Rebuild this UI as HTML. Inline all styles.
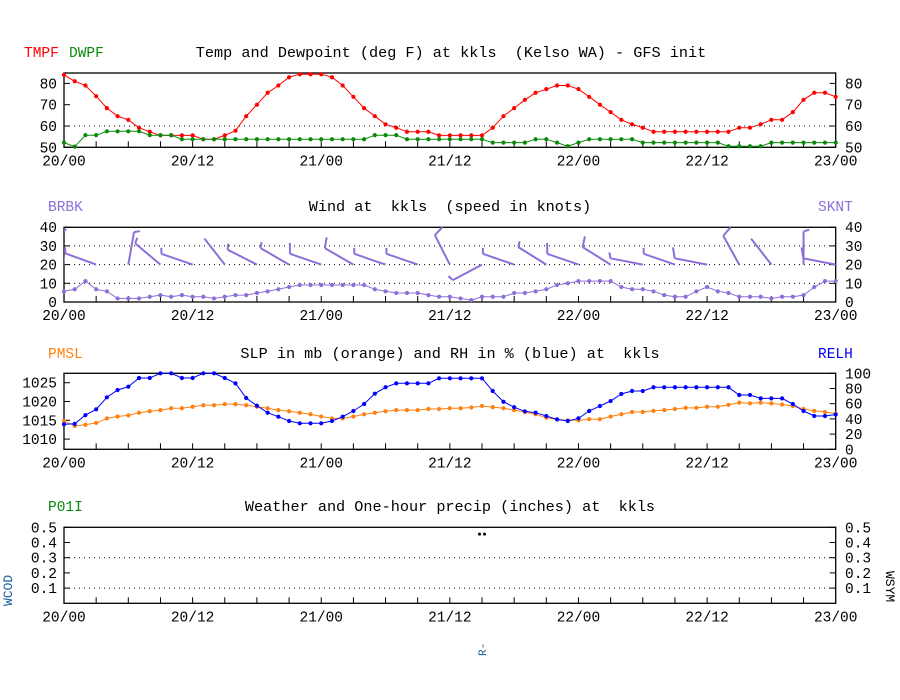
<!DOCTYPE html>
<html><head><meta charset="utf-8"><title>kkls meteogram</title>
<style>
html,body{margin:0;padding:0;background:#fff;width:900px;height:700px;overflow:hidden}
svg{display:block}
text{font-family:"Liberation Mono",monospace;white-space:pre}
</style></head>
<body>
<svg id="chart" width="900" height="700" viewBox="0 0 900 700" xmlns="http://www.w3.org/2000/svg" xml:space="preserve">
<defs>
<clipPath id="clipWind"><rect x="64" y="227" width="772" height="75"/></clipPath>
</defs>
<rect x="0" y="0" width="900" height="700" fill="#fff"/>
<g id="g1"></g>
<g id="g2"></g>
<g id="g3"></g>
<g id="g4"></g>
</svg>
<script>
// ---- data ----
const xTickLabels = ["20/00","20/12","21/00","21/12","22/00","22/12","23/00"];
const tmpf = [84,81,79,74,68.4,64.6,62.9,59.2,57.3,55.6,55.6,55.6,55.6,53.8,53.8,55.6,57.8,64.6,70,75.6,79,82.9,84.3,84.3,84.3,82.9,79,73.7,68.4,64.6,60.8,59.2,57.3,57.3,57.3,55.6,55.6,55.6,55.6,55.6,59.2,64.6,68.4,72.3,75.6,77.3,79,79,77.3,73.7,70,66.5,62.9,60.8,59.2,57.3,57.3,57.3,57.3,57.3,57.3,57.3,57.3,59.2,59.2,60.8,62.9,62.9,66.5,72.3,75.6,75.6,73.7];
const dwpf = [52.2,50.3,55.7,55.7,57.5,57.5,57.5,57.5,55.7,55.7,55.7,53.8,53.8,53.8,53.8,53.8,53.8,53.8,53.8,53.8,53.8,53.8,53.8,53.8,53.8,53.8,53.8,53.8,53.8,55.7,55.7,55.7,53.8,53.8,53.8,53.8,53.8,53.8,53.8,53.8,52.2,52.2,52.2,52.2,53.8,53.8,52.2,50.5,52.2,53.8,53.8,53.8,53.8,53.8,52.2,52.2,52.2,52.2,52.2,52.2,52.2,52.2,50.5,50.5,50.5,50.5,52.2,52.2,52.2,52.2,52.2,52.2,52.2];
const sknt = [5.7,6.8,11.2,6.8,5.7,1.9,1.9,1.9,2.8,3.7,2.8,3.7,2.8,2.8,1.9,2.8,3.7,3.7,4.8,5.7,6.8,8,9.1,9.1,9.1,9.1,9.1,9.1,9.1,6.8,5.7,4.8,4.8,4.8,3.7,2.8,2.8,1.9,1,2.8,2.8,2.8,4.8,4.8,5.7,6.8,9.1,10,11.2,11.2,11.2,11.2,8,6.8,6.8,5.7,3.7,2.8,2.8,5.7,8,5.7,4.8,2.8,2.8,2.8,1.9,2.8,2.8,3.7,8,11.2,11.2];
const barbHours = [0,3,6,9,12,15,18,21,24,27,30,33,36,39,42,45,48,51,54,57,60,63,66,69,72];
const barbDir =   [355,290,10,310,289,322,297,300,289,300,289,289,333,242,289,302,289,302,281,289,281,331,322,0,281];
const barbSpd =   [5,5,5,5,5,0,5,5,10,10,5,5,10,5,5,5,10,10,5,5,10,10,0,5,10];
const pmsl = [1014.8,1013.5,1013.8,1014.3,1015.5,1016,1016.3,1017,1017.4,1017.7,1018.2,1018.2,1018.6,1019,1019,1019.3,1019.3,1019,1018.6,1018.2,1017.7,1017.4,1017,1016.6,1016,1015.5,1015.5,1016,1016.6,1017,1017.4,1017.7,1017.7,1017.7,1018,1018,1018.2,1018.2,1018.4,1018.8,1018.5,1018.2,1017.7,1017.2,1016.6,1015.7,1015.2,1015,1015,1015.3,1015.3,1016,1016.6,1017.2,1017.2,1017.5,1017.7,1018,1018.3,1018.3,1018.6,1018.6,1019.1,1019.7,1019.5,1019.7,1019.5,1019.2,1018.8,1018,1017.5,1017.2,1016.8];
const relh = [33,33.5,45,52.6,68.4,78,82.4,93.8,93.8,100,100,93.8,93.8,100,100,93.8,86.8,67.5,57.4,48.2,42.9,37.2,34.2,34.2,34.2,37.2,42.9,50.4,59.6,73.2,81.6,86.8,86.8,86.8,86.8,93.4,93.4,93.4,93.4,93.4,76.7,62.6,55.3,50,48.2,43.8,39.4,37.2,40.8,50.4,57,63.5,72.8,76.7,76.7,81.6,81.6,81.6,81.6,81.6,81.6,81.6,81.6,71.5,71.5,67,67,67,59.6,50.4,43.8,43.8,45.8];
const wxHours = [39];
const wxCodes = ["R-"];
const wxValue = [0.455];

// ---- axes ----
const X0 = 64, X1 = 835.7, HOURS = 72;
function xs(h){ return X0 + h*(X1-X0)/HOURS; }
const P = {
  t:{top:73,bot:147.3}, w:{top:227.3,bot:302}, s:{top:373.3,bot:449.3}, p:{top:527.3,bot:603.3}
};
function yT(v){ return 147.3-(v-50)*2.13; }
function yW(v){ return 302-v*1.87; }
function yS(v){ return 382.7-(v-1025)*3.76; }
function yR(v){ return 449.3-v*0.76; }
function yP(v){ return 603.3-v*152; }

const NS="http://www.w3.org/2000/svg";
function mk(parent, tag, attrs, txt){
  const e=document.createElementNS(NS,tag);
  for(const k in attrs) e.setAttribute(k,attrs[k]);
  if(txt!==undefined) e.textContent=txt;
  parent.appendChild(e);
  return e;
}
const PURPLE="#8c6fd8", RED="#ff0000", GREEN="#0a8a0a", ORANGE="#ff8010", BLUE="#0000ff", WBLUE="#1a5aa0";

function frame(g, box, leftVals, leftFn, rightVals, rightFn, gridVals, gridFn, leftFmt, rightFmt){
  const r=mk(g,'rect',{x:X0,y:box.top,width:X1-X0,height:box.bot-box.top,fill:'none',stroke:'#000','stroke-width':1.3});
  
  
  for(const v of gridVals){
    const l=mk(g,'line',{x1:X0,x2:X1,y1:gridFn(v),y2:gridFn(v),stroke:'#000','stroke-width':1,'stroke-dasharray':'1 4'});
    
    
  }
  for(let h=3;h<HOURS;h+=3){
    const t=mk(g,'line',{x1:xs(h),x2:xs(h),y1:box.bot,y2:box.bot-6,stroke:'#000','stroke-width':1});
    
    
  }
  xTickLabels.forEach((s,i)=>{
    const t=mk(g,'text',{x:xs(i*12),y:box.bot+18,'text-anchor':'middle','font-size':14.5,fill:'#000'},s);
    
    
  });
  for(const v of leftVals){
    const y=leftFn(v);
    const tk=mk(g,'line',{x1:X0,x2:X0+6,y1:y,y2:y,stroke:'#000'});
    
    
    const t=mk(g,'text',{x:57,y:y+5,'text-anchor':'end','font-size':14.5,fill:'#000'},leftFmt(v));
    
    
  }
  for(const v of rightVals){
    const y=rightFn(v);
    const tk=mk(g,'line',{x1:X1-6,x2:X1,y1:y,y2:y,stroke:'#000'});
    
    
    const t=mk(g,'text',{x:845,y:y+5,'font-size':14.5,fill:'#000'},rightFmt(v));
    
    
  }
}
function series(g, vals, fn, color, name){
  const pts=vals.map((v,i)=>xs(i).toFixed(1)+','+fn(v).toFixed(1)).join(' ');
  const pl=mk(g,'polyline',{points:pts,fill:'none',stroke:color,'stroke-width':1});
  
  
  vals.forEach((v,i)=>{
    const c=mk(g,'circle',{cx:xs(i),cy:fn(v),r:2.1,fill:color});
    
    
  });
}
function label(g,x,y,s,color,name,anchor){
  const t=mk(g,'text',{x:x,y:y,'font-size':14.5,fill:color,'text-anchor':anchor||'start'},s);
  
  
  return t;
}
function title(g,x,y,s,name){
  const t=mk(g,'text',{x:x,y:y,'font-size':15.2,fill:'#000','text-anchor':'middle'},s);
  
  
  return t;
}
const id=v=>String(v);

// Panel 1
const g1=document.getElementById('g1');
frame(g1,P.t,[50,60,70,80],yT,[50,60,70,80],yT,[60],yT,id,id);
label(g1,24,57,'TMPF',RED,'legend-tmpf');
label(g1,69,57,'DWPF',GREEN,'legend-dwpf');
title(g1,451,57,'Temp and Dewpoint (deg F) at kkls  (Kelso WA) - GFS init','chart-title-temp');
series(g1,tmpf,yT,RED,'tmpf');
series(g1,dwpf,yT,GREEN,'dwpf');

// Panel 2
const g2=document.getElementById('g2');
frame(g2,P.w,[0,10,20,30,40],yW,[0,10,20,30,40],yW,[10,20,30],yW,id,id);
label(g2,48,211,'BRBK',PURPLE,'legend-brbk');
label(g2,818,211,'SKNT',PURPLE,'legend-sknt');
title(g2,450,211,'Wind at  kkls  (speed in knots)','chart-title-wind');
series(g2,sknt,yW,PURPLE,'sknt');
const gb=mk(g2,'g',{'clip-path':'url(#clipWind)'});


barbHours.forEach((h,i)=>{
  const ax=xs(h), ay=yW(20), d=barbDir[i]*Math.PI/180, L=33;
  const ex=ax+L*Math.sin(d), ey=ay-L*Math.cos(d);
  const s=mk(gb,'line',{x1:ax,y1:ay,x2:ex,y2:ey,stroke:PURPLE,'stroke-width':2});
  
  
  if(barbSpd[i]>=5){
    const bl = barbSpd[i]>=10 ? 11 : 6;
    const a=d+70*Math.PI/180;
    const b=mk(gb,'line',{x1:ex,y1:ey,x2:ex+bl*Math.sin(a),y2:ey-bl*Math.cos(a),stroke:PURPLE,'stroke-width':2});
    
    
  }
});

// Panel 3
const g3=document.getElementById('g3');
frame(g3,P.s,[1010,1015,1020,1025],yS,[0,20,40,60,80,100],yR,[],yS,id,id);
label(g3,48,358,'PMSL',ORANGE,'legend-pmsl');
label(g3,818,358,'RELH',BLUE,'legend-relh');
title(g3,450,358,'SLP in mb (orange) and RH in % (blue) at  kkls','chart-title-slp');
series(g3,pmsl,yS,ORANGE,'pmsl');
series(g3,relh,yR,BLUE,'relh');

// Panel 4
const g4=document.getElementById('g4');
const f1=v=>v.toFixed(1);
frame(g4,P.p,[0.1,0.2,0.3,0.4,0.5],yP,[0.1,0.2,0.3,0.4,0.5],yP,[0.1,0.3],yP,f1,f1);
label(g4,48,511,'P01I',GREEN,'legend-p01i');
title(g4,450,511,'Weather and One-hour precip (inches) at  kkls','chart-title-precip');
const wc=mk(g4,'text',{x:12,y:606,'font-size':13,fill:WBLUE,transform:'rotate(-90 12 606)'},'WCOD');


const ws=mk(g4,'text',{x:886,y:571,'font-size':13,fill:'#000',transform:'rotate(90 886 571)'},'WSYM');


wxHours.forEach((h,i)=>{
  const x=xs(h), y=yP(wxValue[i]);
  const d1=mk(g4,'circle',{cx:x-2.5,cy:y,r:1.5,fill:'#000'});
  
  
  const d2=mk(g4,'circle',{cx:x+2.5,cy:y,r:1.5,fill:'#000'});
  
  
  const t=mk(g4,'text',{x:x+4,y:656,'font-size':11,fill:WBLUE,transform:'rotate(-90 '+(x+4)+' 656)'},wxCodes[i]);
  
  
});
</script>
</body></html>
